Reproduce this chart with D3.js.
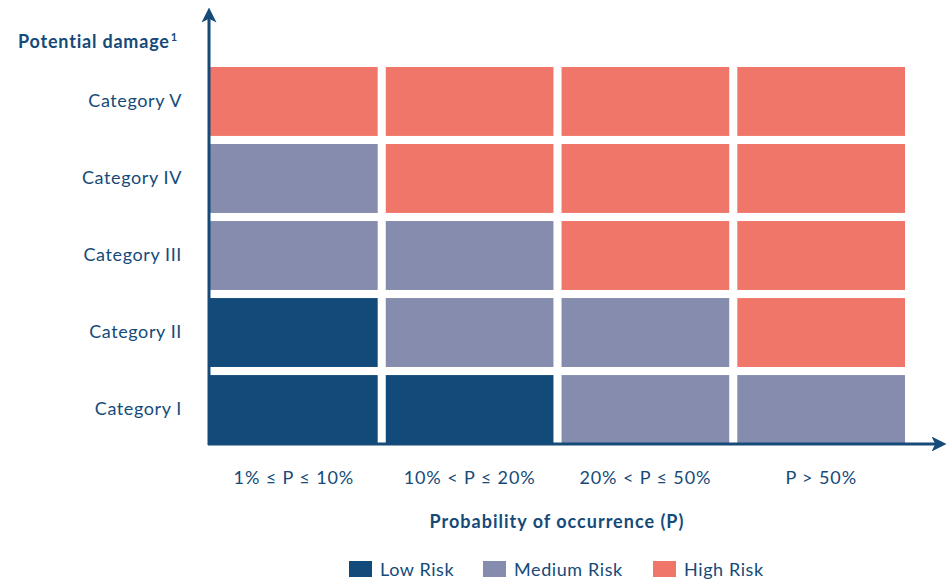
<!DOCTYPE html>
<html><head><meta charset="utf-8">
<script src="https://cdn.jsdelivr.net/npm/d3@7"></script>
<style>body{margin:0;background:#fff}svg{display:block}</style>
</head><body>
<svg id="c" width="948" height="581"></svg>
<script>
const categories = ["Category I","Category II","Category III","Category IV","Category V"];
const probabilities = ["1% \u2264 P \u2264 10%","10% < P \u2264 20%","20% < P \u2264 50%","P > 50%"];
const riskLevels = ["Low Risk","Medium Risk","High Risk"];
// risk per category (rows) and probability bucket (columns)
const riskCatI   = ["Low Risk","Low Risk","Medium Risk","Medium Risk"];
const riskCatII  = ["Low Risk","Medium Risk","Medium Risk","High Risk"];
const riskCatIII = ["Medium Risk","Medium Risk","High Risk","High Risk"];
const riskCatIV  = ["Medium Risk","High Risk","High Risk","High Risk"];
const riskCatV   = ["High Risk","High Risk","High Risk","High Risk"];
const riskRows = [riskCatI, riskCatII, riskCatIII, riskCatIV, riskCatV];

const cells = [];
categories.forEach((c,i)=>probabilities.forEach((p,j)=>cells.push({cat:c,prob:p,risk:riskRows[i][j]})));

const navy = "#154a79";
const font = "Lato, 'Open Sans', sans-serif";
const svg = d3.select("#c");

const x = d3.scaleBand().domain(probabilities).range([210,905]).paddingInner(0.046);
const y = d3.scaleBand().domain(categories.slice().reverse()).range([67,444]).paddingInner(0.105);
const color = d3.scaleOrdinal().domain(riskLevels).range(["#124a7a","#858cad","#f1766a"]);

svg.append("g").selectAll("rect").data(cells).join("rect")
  .attr("x",d=>x(d.prob)).attr("y",d=>y(d.cat))
  .attr("width",x.bandwidth()).attr("height",y.bandwidth())
  .attr("fill",d=>color(d.risk));

// axes
const defs = svg.append("defs");
defs.append("marker").attr("id","arr").attr("viewBox","0 0 10 10").attr("refX",7).attr("refY",5)
  .attr("markerWidth",5).attr("markerHeight",5).attr("orient","auto")
  .append("path").attr("d","M0,0 L10,5 L0,10 L2.5,5 Z").attr("fill",navy);

svg.append("line").attr("x1",209).attr("y1",445).attr("x2",209).attr("y2",12)
  .attr("stroke",navy).attr("stroke-width",3).attr("marker-end","url(#arr)");
svg.append("line").attr("x1",208).attr("y1",444).attr("x2",942).attr("y2",444)
  .attr("stroke",navy).attr("stroke-width",3).attr("marker-end","url(#arr)");

// y labels
const yAxis = d3.axisLeft(y).tickSize(0).tickPadding(0);
const gy = svg.append("g").attr("transform","translate(182,0)").call(yAxis);
gy.select(".domain").remove();
gy.selectAll("text").attr("fill",navy).attr("font-family",font).attr("font-size",18)
  .attr("letter-spacing","0.6px");

// x labels
const xAxis = d3.axisBottom(x).tickSize(0).tickPadding(0);
const gx = svg.append("g").attr("transform","translate(0,471)").call(xAxis);
gx.select(".domain").remove();
gx.selectAll("text").attr("fill",navy).attr("font-family",font).attr("font-size",18)
  .attr("letter-spacing","0.9px");

// titles
const yt = svg.append("text").attr("x",18).attr("y",48).attr("fill",navy)
  .attr("font-family",font).attr("font-weight",700).attr("font-size",18).attr("letter-spacing","0.8px");
yt.append("tspan").text("Potential damage");
yt.append("tspan").text("1").attr("font-size",11).attr("dy",-7).attr("dx",1);

svg.append("text").attr("x",557).attr("y",528).attr("text-anchor","middle").attr("fill",navy)
  .attr("font-family",font).attr("font-weight",700).attr("font-size",18).attr("letter-spacing","1px")
  .text("Probability of occurrence (P)");

// legend
const legX = [349,483,653];
const lg = svg.append("g").selectAll("g").data(riskLevels).join("g")
  .attr("transform",(d,i)=>`translate(${legX[i]},561)`);
lg.append("rect").attr("width",23).attr("height",16).attr("fill",d=>color(d));
lg.append("text").attr("x",31).attr("y",15).attr("fill",navy)
  .attr("font-family",font).attr("font-size",18).attr("letter-spacing","0.6px").text(d=>d);
</script>
</body></html>
